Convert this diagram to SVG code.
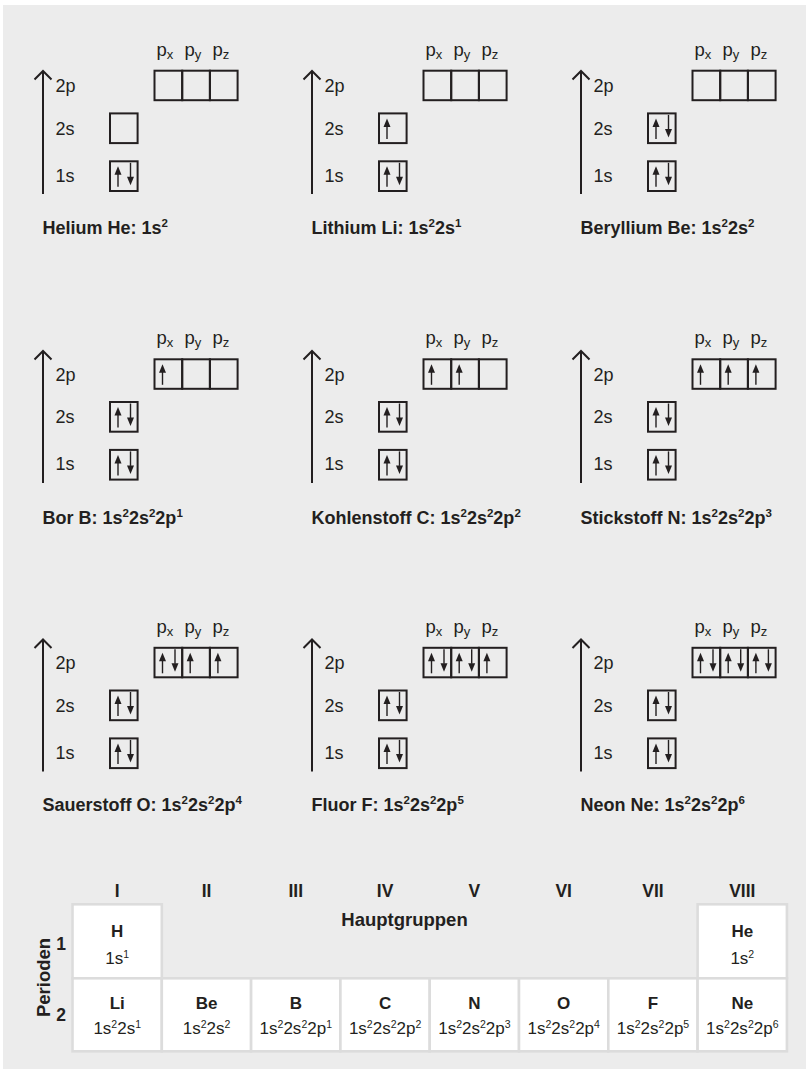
<svg xmlns="http://www.w3.org/2000/svg" xmlns:xlink="http://www.w3.org/1999/xlink" width="811" height="1073" viewBox="0 0 811 1073">
<style>
text{font-family:"Liberation Sans",Arial,sans-serif;fill:#231f20}
.lbl{font-size:18px}
.pl{font-size:18.5px}
.sub{font-size:13px}
.ttl{font-size:18px;font-weight:bold}
.sup{font-size:11.5px}
.box{fill:none;stroke:#231f20;stroke-width:2}
.axis{fill:none;stroke:#231f20;stroke-width:2}
.spin{stroke:#231f20;stroke-width:1.4}
.head{fill:#231f20}
.cell{fill:#fff;stroke:#dcdcdc;stroke-width:2.6}
.hd{font-size:17.5px;font-weight:bold;text-anchor:middle}
.big{font-size:18.5px}
.sym{font-size:17px;font-weight:bold;text-anchor:middle}
.cfg{font-size:17px;text-anchor:middle}
.csup{font-size:10.5px}
</style>
<defs>
<g id="up"><line class="spin" x1="8" y1="25.5" x2="8" y2="12"/><path class="head" d="M8 5L11.5 13.5L4.5 13.5Z"/></g>
<g id="dn"><line class="spin" x1="20.5" y1="1.5" x2="20.5" y2="16"/><path class="head" d="M20.5 24L24 15.5L17 15.5Z"/></g>
</defs>
<rect x="3" y="5" width="803" height="1064" fill="#ececec"/>

<!-- Row 1 -->
<g id="helium">
<path class="axis" d="M43 194V71.5M34.5 79.5L43 71L51.5 79.5"/>
<text class="lbl" x="55.5" y="92">2p</text><text class="lbl" x="55.5" y="134.8">2s</text><text class="lbl" x="55.5" y="181.5">1s</text>
<text class="pl" x="156.5" y="55.7">p<tspan class="sub" dy="3">x</tspan></text><text class="pl" x="184.5" y="55.7">p<tspan class="sub" dy="3">y</tspan></text><text class="pl" x="212.5" y="55.7">p<tspan class="sub" dy="3">z</tspan></text>
<rect class="box" x="154.5" y="70.7" width="27.7" height="29.5"/><rect class="box" x="182.2" y="70.7" width="27.7" height="29.5"/><rect class="box" x="209.9" y="70.7" width="27.7" height="29.5"/>
<rect class="box" x="110" y="113.4" width="27.6" height="29.7"/>
<rect class="box" x="110" y="161.3" width="27.6" height="29.7"/>
<use xlink:href="#up" x="110" y="161.3"/><use xlink:href="#dn" x="110" y="161.3"/>
<text class="ttl" x="42.5" y="234">Helium He: 1s<tspan class="sup" dy="-7">2</tspan></text>
</g>

<g id="lithium">
<path class="axis" d="M312 194V71.5M303.5 79.5L312 71L320.5 79.5"/>
<text class="lbl" x="324.5" y="92">2p</text><text class="lbl" x="324.5" y="134.8">2s</text><text class="lbl" x="324.5" y="181.5">1s</text>
<text class="pl" x="425.5" y="55.7">p<tspan class="sub" dy="3">x</tspan></text><text class="pl" x="453.5" y="55.7">p<tspan class="sub" dy="3">y</tspan></text><text class="pl" x="481.5" y="55.7">p<tspan class="sub" dy="3">z</tspan></text>
<rect class="box" x="423.5" y="70.7" width="27.7" height="29.5"/><rect class="box" x="451.2" y="70.7" width="27.7" height="29.5"/><rect class="box" x="478.9" y="70.7" width="27.7" height="29.5"/>
<rect class="box" x="379" y="113.4" width="27.6" height="29.7"/>
<use xlink:href="#up" x="379" y="113.4"/>
<rect class="box" x="379" y="161.3" width="27.6" height="29.7"/>
<use xlink:href="#up" x="379" y="161.3"/><use xlink:href="#dn" x="379" y="161.3"/>
<text class="ttl" x="311.5" y="234">Lithium Li: 1s<tspan class="sup" dy="-7">2</tspan><tspan dy="7">2s</tspan><tspan class="sup" dy="-7">1</tspan></text>
</g>

<g id="beryllium">
<path class="axis" d="M581 194V71.5M572.5 79.5L581 71L589.5 79.5"/>
<text class="lbl" x="593.5" y="92">2p</text><text class="lbl" x="593.5" y="134.8">2s</text><text class="lbl" x="593.5" y="181.5">1s</text>
<text class="pl" x="694.5" y="55.7">p<tspan class="sub" dy="3">x</tspan></text><text class="pl" x="722.5" y="55.7">p<tspan class="sub" dy="3">y</tspan></text><text class="pl" x="750.5" y="55.7">p<tspan class="sub" dy="3">z</tspan></text>
<rect class="box" x="692.5" y="70.7" width="27.7" height="29.5"/><rect class="box" x="720.2" y="70.7" width="27.7" height="29.5"/><rect class="box" x="747.9" y="70.7" width="27.7" height="29.5"/>
<rect class="box" x="648" y="113.4" width="27.6" height="29.7"/>
<use xlink:href="#up" x="648" y="113.4"/><use xlink:href="#dn" x="648" y="113.4"/>
<rect class="box" x="648" y="161.3" width="27.6" height="29.7"/>
<use xlink:href="#up" x="648" y="161.3"/><use xlink:href="#dn" x="648" y="161.3"/>
<text class="ttl" x="580.5" y="234">Beryllium Be: 1s<tspan class="sup" dy="-7">2</tspan><tspan dy="7">2s</tspan><tspan class="sup" dy="-7">2</tspan></text>
</g>

<!-- Row 2 -->
<g id="bor">
<path class="axis" d="M43 482.9V351.5M34.5 359.5L43 351L51.5 359.5"/>
<text class="lbl" x="55.5" y="380.6">2p</text><text class="lbl" x="55.5" y="423.4">2s</text><text class="lbl" x="55.5" y="470.1">1s</text>
<text class="pl" x="156.5" y="344.3">p<tspan class="sub" dy="3">x</tspan></text><text class="pl" x="184.5" y="344.3">p<tspan class="sub" dy="3">y</tspan></text><text class="pl" x="212.5" y="344.3">p<tspan class="sub" dy="3">z</tspan></text>
<rect class="box" x="154.5" y="359.3" width="27.7" height="29.5"/><rect class="box" x="182.2" y="359.3" width="27.7" height="29.5"/><rect class="box" x="209.9" y="359.3" width="27.7" height="29.5"/>
<use xlink:href="#up" x="154.5" y="359.3"/>
<rect class="box" x="110" y="402" width="27.6" height="29.7"/>
<use xlink:href="#up" x="110" y="402"/><use xlink:href="#dn" x="110" y="402"/>
<rect class="box" x="110" y="449.9" width="27.6" height="29.7"/>
<use xlink:href="#up" x="110" y="449.9"/><use xlink:href="#dn" x="110" y="449.9"/>
<text class="ttl" x="42.5" y="523.5">Bor B: 1s<tspan class="sup" dy="-7">2</tspan><tspan dy="7">2s</tspan><tspan class="sup" dy="-7">2</tspan><tspan dy="7">2p</tspan><tspan class="sup" dy="-7">1</tspan></text>
</g>

<g id="kohlenstoff">
<path class="axis" d="M312 482.9V351.5M303.5 359.5L312 351L320.5 359.5"/>
<text class="lbl" x="324.5" y="380.6">2p</text><text class="lbl" x="324.5" y="423.4">2s</text><text class="lbl" x="324.5" y="470.1">1s</text>
<text class="pl" x="425.5" y="344.3">p<tspan class="sub" dy="3">x</tspan></text><text class="pl" x="453.5" y="344.3">p<tspan class="sub" dy="3">y</tspan></text><text class="pl" x="481.5" y="344.3">p<tspan class="sub" dy="3">z</tspan></text>
<rect class="box" x="423.5" y="359.3" width="27.7" height="29.5"/><rect class="box" x="451.2" y="359.3" width="27.7" height="29.5"/><rect class="box" x="478.9" y="359.3" width="27.7" height="29.5"/>
<use xlink:href="#up" x="423.5" y="359.3"/><use xlink:href="#up" x="451.2" y="359.3"/>
<rect class="box" x="379" y="402" width="27.6" height="29.7"/>
<use xlink:href="#up" x="379" y="402"/><use xlink:href="#dn" x="379" y="402"/>
<rect class="box" x="379" y="449.9" width="27.6" height="29.7"/>
<use xlink:href="#up" x="379" y="449.9"/><use xlink:href="#dn" x="379" y="449.9"/>
<text class="ttl" x="311.5" y="523.5">Kohlenstoff C: 1s<tspan class="sup" dy="-7">2</tspan><tspan dy="7">2s</tspan><tspan class="sup" dy="-7">2</tspan><tspan dy="7">2p</tspan><tspan class="sup" dy="-7">2</tspan></text>
</g>

<g id="stickstoff">
<path class="axis" d="M581 482.9V351.5M572.5 359.5L581 351L589.5 359.5"/>
<text class="lbl" x="593.5" y="380.6">2p</text><text class="lbl" x="593.5" y="423.4">2s</text><text class="lbl" x="593.5" y="470.1">1s</text>
<text class="pl" x="694.5" y="344.3">p<tspan class="sub" dy="3">x</tspan></text><text class="pl" x="722.5" y="344.3">p<tspan class="sub" dy="3">y</tspan></text><text class="pl" x="750.5" y="344.3">p<tspan class="sub" dy="3">z</tspan></text>
<rect class="box" x="692.5" y="359.3" width="27.7" height="29.5"/><rect class="box" x="720.2" y="359.3" width="27.7" height="29.5"/><rect class="box" x="747.9" y="359.3" width="27.7" height="29.5"/>
<use xlink:href="#up" x="692.5" y="359.3"/><use xlink:href="#up" x="720.2" y="359.3"/><use xlink:href="#up" x="747.9" y="359.3"/>
<rect class="box" x="648" y="402" width="27.6" height="29.7"/>
<use xlink:href="#up" x="648" y="402"/><use xlink:href="#dn" x="648" y="402"/>
<rect class="box" x="648" y="449.9" width="27.6" height="29.7"/>
<use xlink:href="#up" x="648" y="449.9"/><use xlink:href="#dn" x="648" y="449.9"/>
<text class="ttl" x="580.5" y="523.5">Stickstoff N: 1s<tspan class="sup" dy="-7">2</tspan><tspan dy="7">2s</tspan><tspan class="sup" dy="-7">2</tspan><tspan dy="7">2p</tspan><tspan class="sup" dy="-7">3</tspan></text>
</g>

<!-- Row 3 -->
<g id="sauerstoff">
<path class="axis" d="M43 771.4V640M34.5 648L43 639.5L51.5 648"/>
<text class="lbl" x="55.5" y="669.1">2p</text><text class="lbl" x="55.5" y="711.9">2s</text><text class="lbl" x="55.5" y="758.6">1s</text>
<text class="pl" x="156.5" y="632.8">p<tspan class="sub" dy="3">x</tspan></text><text class="pl" x="184.5" y="632.8">p<tspan class="sub" dy="3">y</tspan></text><text class="pl" x="212.5" y="632.8">p<tspan class="sub" dy="3">z</tspan></text>
<rect class="box" x="154.5" y="647.8" width="27.7" height="29.5"/><rect class="box" x="182.2" y="647.8" width="27.7" height="29.5"/><rect class="box" x="209.9" y="647.8" width="27.7" height="29.5"/>
<use xlink:href="#up" x="154.5" y="647.8"/><use xlink:href="#dn" x="154.5" y="647.8"/><use xlink:href="#up" x="182.2" y="647.8"/><use xlink:href="#up" x="209.9" y="647.8"/>
<rect class="box" x="110" y="690.5" width="27.6" height="29.7"/>
<use xlink:href="#up" x="110" y="690.5"/><use xlink:href="#dn" x="110" y="690.5"/>
<rect class="box" x="110" y="738.4" width="27.6" height="29.7"/>
<use xlink:href="#up" x="110" y="738.4"/><use xlink:href="#dn" x="110" y="738.4"/>
<text class="ttl" x="42.5" y="811">Sauerstoff O: 1s<tspan class="sup" dy="-7">2</tspan><tspan dy="7">2s</tspan><tspan class="sup" dy="-7">2</tspan><tspan dy="7">2p</tspan><tspan class="sup" dy="-7">4</tspan></text>
</g>

<g id="fluor">
<path class="axis" d="M312 771.4V640M303.5 648L312 639.5L320.5 648"/>
<text class="lbl" x="324.5" y="669.1">2p</text><text class="lbl" x="324.5" y="711.9">2s</text><text class="lbl" x="324.5" y="758.6">1s</text>
<text class="pl" x="425.5" y="632.8">p<tspan class="sub" dy="3">x</tspan></text><text class="pl" x="453.5" y="632.8">p<tspan class="sub" dy="3">y</tspan></text><text class="pl" x="481.5" y="632.8">p<tspan class="sub" dy="3">z</tspan></text>
<rect class="box" x="423.5" y="647.8" width="27.7" height="29.5"/><rect class="box" x="451.2" y="647.8" width="27.7" height="29.5"/><rect class="box" x="478.9" y="647.8" width="27.7" height="29.5"/>
<use xlink:href="#up" x="423.5" y="647.8"/><use xlink:href="#dn" x="423.5" y="647.8"/><use xlink:href="#up" x="451.2" y="647.8"/><use xlink:href="#dn" x="451.2" y="647.8"/><use xlink:href="#up" x="478.9" y="647.8"/>
<rect class="box" x="379" y="690.5" width="27.6" height="29.7"/>
<use xlink:href="#up" x="379" y="690.5"/><use xlink:href="#dn" x="379" y="690.5"/>
<rect class="box" x="379" y="738.4" width="27.6" height="29.7"/>
<use xlink:href="#up" x="379" y="738.4"/><use xlink:href="#dn" x="379" y="738.4"/>
<text class="ttl" x="311.5" y="811">Fluor F: 1s<tspan class="sup" dy="-7">2</tspan><tspan dy="7">2s</tspan><tspan class="sup" dy="-7">2</tspan><tspan dy="7">2p</tspan><tspan class="sup" dy="-7">5</tspan></text>
</g>

<g id="neon">
<path class="axis" d="M581 771.4V640M572.5 648L581 639.5L589.5 648"/>
<text class="lbl" x="593.5" y="669.1">2p</text><text class="lbl" x="593.5" y="711.9">2s</text><text class="lbl" x="593.5" y="758.6">1s</text>
<text class="pl" x="694.5" y="632.8">p<tspan class="sub" dy="3">x</tspan></text><text class="pl" x="722.5" y="632.8">p<tspan class="sub" dy="3">y</tspan></text><text class="pl" x="750.5" y="632.8">p<tspan class="sub" dy="3">z</tspan></text>
<rect class="box" x="692.5" y="647.8" width="27.7" height="29.5"/><rect class="box" x="720.2" y="647.8" width="27.7" height="29.5"/><rect class="box" x="747.9" y="647.8" width="27.7" height="29.5"/>
<use xlink:href="#up" x="692.5" y="647.8"/><use xlink:href="#dn" x="692.5" y="647.8"/><use xlink:href="#up" x="720.2" y="647.8"/><use xlink:href="#dn" x="720.2" y="647.8"/><use xlink:href="#up" x="747.9" y="647.8"/><use xlink:href="#dn" x="747.9" y="647.8"/>
<rect class="box" x="648" y="690.5" width="27.6" height="29.7"/>
<use xlink:href="#up" x="648" y="690.5"/><use xlink:href="#dn" x="648" y="690.5"/>
<rect class="box" x="648" y="738.4" width="27.6" height="29.7"/>
<use xlink:href="#up" x="648" y="738.4"/><use xlink:href="#dn" x="648" y="738.4"/>
<text class="ttl" x="580.5" y="811">Neon Ne: 1s<tspan class="sup" dy="-7">2</tspan><tspan dy="7">2s</tspan><tspan class="sup" dy="-7">2</tspan><tspan dy="7">2p</tspan><tspan class="sup" dy="-7">6</tspan></text>
</g>

<!-- Table -->
<g id="table-headers">
<text class="hd" x="117.2" y="897.3">I</text>
<text class="hd" x="206.5" y="897.3">II</text>
<text class="hd" x="295.8" y="897.3">III</text>
<text class="hd" x="385.1" y="897.3">IV</text>
<text class="hd" x="474.4" y="897.3">V</text>
<text class="hd" x="563.7" y="897.3">VI</text>
<text class="hd" x="653" y="897.3">VII</text>
<text class="hd" x="742.3" y="897.3">VIII</text>
<text class="hd big" x="404.5" y="926">Hauptgruppen</text>
<text class="hd big" transform="translate(49.5,977.5) rotate(-90)">Perioden</text>
<text class="hd" x="61" y="950">1</text>
<text class="hd" x="61" y="1021">2</text>
</g>
<g id="cell-H"><rect class="cell" x="72.5" y="904.3" width="89.3" height="74"/><text class="sym" x="117.2" y="937.3">H</text><text class="cfg" x="117.2" y="964">1s<tspan class="csup" dy="-6.5">1</tspan></text></g>
<g id="cell-He"><rect class="cell" x="697.6" y="904.3" width="89.3" height="74"/><text class="sym" x="742.3" y="937.3">He</text><text class="cfg" x="742.3" y="964">1s<tspan class="csup" dy="-6.5">2</tspan></text></g>
<g id="cell-Li"><rect class="cell" x="72.5" y="978.3" width="89.3" height="73"/><text class="sym" x="117.2" y="1009.3">Li</text><text class="cfg" x="117.2" y="1034.3">1s<tspan class="csup" dy="-6.5">2</tspan><tspan dy="6.5">2s</tspan><tspan class="csup" dy="-6.5">1</tspan></text></g>
<g id="cell-Be"><rect class="cell" x="161.8" y="978.3" width="89.3" height="73"/><text class="sym" x="206.5" y="1009.3">Be</text><text class="cfg" x="206.5" y="1034.3">1s<tspan class="csup" dy="-6.5">2</tspan><tspan dy="6.5">2s</tspan><tspan class="csup" dy="-6.5">2</tspan></text></g>
<g id="cell-B"><rect class="cell" x="251.1" y="978.3" width="89.3" height="73"/><text class="sym" x="295.8" y="1009.3">B</text><text class="cfg" x="295.8" y="1034.3">1s<tspan class="csup" dy="-6.5">2</tspan><tspan dy="6.5">2s</tspan><tspan class="csup" dy="-6.5">2</tspan><tspan dy="6.5">2p</tspan><tspan class="csup" dy="-6.5">1</tspan></text></g>
<g id="cell-C"><rect class="cell" x="340.4" y="978.3" width="89.3" height="73"/><text class="sym" x="385.1" y="1009.3">C</text><text class="cfg" x="385.1" y="1034.3">1s<tspan class="csup" dy="-6.5">2</tspan><tspan dy="6.5">2s</tspan><tspan class="csup" dy="-6.5">2</tspan><tspan dy="6.5">2p</tspan><tspan class="csup" dy="-6.5">2</tspan></text></g>
<g id="cell-N"><rect class="cell" x="429.7" y="978.3" width="89.3" height="73"/><text class="sym" x="474.4" y="1009.3">N</text><text class="cfg" x="474.4" y="1034.3">1s<tspan class="csup" dy="-6.5">2</tspan><tspan dy="6.5">2s</tspan><tspan class="csup" dy="-6.5">2</tspan><tspan dy="6.5">2p</tspan><tspan class="csup" dy="-6.5">3</tspan></text></g>
<g id="cell-O"><rect class="cell" x="519" y="978.3" width="89.3" height="73"/><text class="sym" x="563.7" y="1009.3">O</text><text class="cfg" x="563.7" y="1034.3">1s<tspan class="csup" dy="-6.5">2</tspan><tspan dy="6.5">2s</tspan><tspan class="csup" dy="-6.5">2</tspan><tspan dy="6.5">2p</tspan><tspan class="csup" dy="-6.5">4</tspan></text></g>
<g id="cell-F"><rect class="cell" x="608.3" y="978.3" width="89.3" height="73"/><text class="sym" x="653" y="1009.3">F</text><text class="cfg" x="653" y="1034.3">1s<tspan class="csup" dy="-6.5">2</tspan><tspan dy="6.5">2s</tspan><tspan class="csup" dy="-6.5">2</tspan><tspan dy="6.5">2p</tspan><tspan class="csup" dy="-6.5">5</tspan></text></g>
<g id="cell-Ne"><rect class="cell" x="697.6" y="978.3" width="89.3" height="73"/><text class="sym" x="742.3" y="1009.3">Ne</text><text class="cfg" x="742.3" y="1034.3">1s<tspan class="csup" dy="-6.5">2</tspan><tspan dy="6.5">2s</tspan><tspan class="csup" dy="-6.5">2</tspan><tspan dy="6.5">2p</tspan><tspan class="csup" dy="-6.5">6</tspan></text></g>
</svg>
